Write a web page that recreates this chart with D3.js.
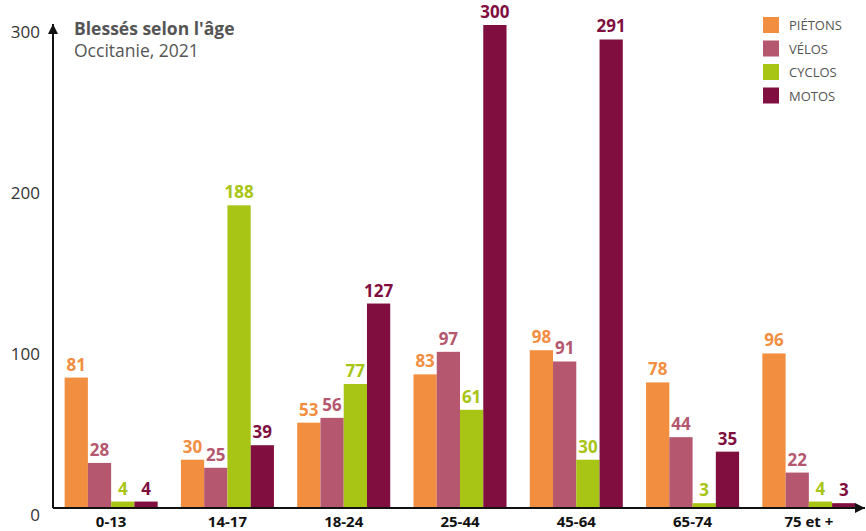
<!DOCTYPE html>
<html>
<head>
<meta charset="utf-8">
<script src="https://cdn.jsdelivr.net/npm/d3@7"></script>
<style>
  body { margin: 0; background: #fff; }
  svg { font-family: "Open Sans", sans-serif; }
</style>
</head>
<body>
<svg></svg>
<script>
// data
const ageGroups = ["0-13", "14-17", "18-24", "25-44", "45-64", "65-74", "75 et +"];
const seriesNames = ["PIÉTONS", "VÉLOS", "CYCLOS", "MOTOS"];
const pietons = [81, 30, 53, 83, 98, 78, 96];
const velos = [28, 25, 56, 97, 91, 44, 22];
const cyclos = [4, 188, 77, 61, 30, 3, 4];
const motos = [4, 39, 127, 300, 291, 35, 3];
const yTicks = [0, 100, 200, 300];

const seriesValues = [pietons, velos, cyclos, motos];
const colors = ["#f28e3f", "#b5576f", "#a8c414", "#800f3f"];

const width = 866;
const height = 531;

const svg = d3.select("svg")
  .attr("width", width)
  .attr("height", height);

// scales
const x = d3.scaleBand()
  .domain(ageGroups)
  .range([53, 867])
  .paddingInner(0.2)
  .paddingOuter(0.1);

const xSub = d3.scaleBand()
  .domain(seriesNames)
  .range([0, x.bandwidth()]);

const y = d3.scaleLinear()
  .domain([0, 300])
  .range([508, 25]);

const color = d3.scaleOrdinal()
  .domain(seriesNames)
  .range(colors);

// flatten for drawing
const rows = [];
ageGroups.forEach((g, i) => {
  seriesNames.forEach((s, j) => {
    rows.push({ group: g, series: s, value: seriesValues[j][i] });
  });
});

// bars
svg.selectAll("rect.bar")
  .data(rows).enter().append("rect")
  .attr("class", "bar")
  .attr("x", d => x(d.group) + xSub(d.series))
  .attr("y", d => y(d.value))
  .attr("width", xSub.bandwidth())
  .attr("height", d => y(0) - y(d.value))
  .attr("fill", d => color(d.series));

// value labels
svg.selectAll("text.val")
  .data(rows).enter().append("text")
  .attr("class", "val")
  .attr("x", d => x(d.group) + xSub(d.series) + xSub.bandwidth() / 2)
  .attr("y", d => y(d.value) - 7)
  .attr("text-anchor", "middle")
  .attr("font-size", "17px")
  .attr("font-weight", "bold")
  .attr("fill", d => color(d.series))
  .text(d => d.value);

// arrow marker
svg.append("defs").append("marker")
  .attr("id", "arrow")
  .attr("viewBox", "0 0 10 10")
  .attr("refX", 10)
  .attr("refY", 5)
  .attr("markerWidth", 5)
  .attr("markerHeight", 5)
  .attr("markerUnits", "strokeWidth")
  .attr("orient", "auto")
  .append("path")
  .attr("d", "M0,0 L10,5 L0,10 z")
  .attr("fill", "#111");

// y-axis
svg.append("line")
  .attr("x1", 53).attr("x2", 53)
  .attr("y1", y(0)).attr("y2", 24)
  .attr("stroke", "#111")
  .attr("stroke-width", 2)
  .attr("marker-end", "url(#arrow)");

svg.selectAll("text.ytick")
  .data(yTicks).enter().append("text")
  .attr("class", "ytick")
  .attr("x", 40)
  .attr("y", d => y(d) + 13)
  .attr("text-anchor", "end")
  .attr("font-size", "17px")
  .attr("fill", "#333")
  .text(d => d);

// x-axis
svg.append("line")
  .attr("x1", 53).attr("x2", 865)
  .attr("y1", y(0)).attr("y2", y(0))
  .attr("stroke", "#111")
  .attr("stroke-width", 2)
  .attr("marker-end", "url(#arrow)");

svg.selectAll("text.xtick")
  .data(ageGroups).enter().append("text")
  .attr("class", "xtick")
  .attr("x", d => x(d) + x.bandwidth() / 2)
  .attr("y", 527)
  .attr("text-anchor", "middle")
  .attr("font-size", "15px")
  .attr("font-weight", "bold")
  .attr("fill", "#111")
  .text(d => d);

// title
svg.append("text")
  .attr("x", 74)
  .attr("y", 35)
  .attr("font-size", "17.5px")
  .attr("font-weight", "bold")
  .attr("fill", "#555")
  .text("Blessés selon l'âge");

svg.append("text")
  .attr("x", 74)
  .attr("y", 57)
  .attr("font-size", "17.5px")
  .attr("fill", "#555")
  .text("Occitanie, 2021");

// legend
const legend = svg.selectAll(".legend-item")
  .data(seriesNames).enter().append("g")
  .attr("class", "legend-item")
  .attr("transform", (d, i) => `translate(763, ${17 + i * 23.5})`);

legend.append("rect")
  .attr("width", 16)
  .attr("height", 16)
  .attr("fill", d => color(d));

legend.append("text")
  .attr("x", 26)
  .attr("y", 13)
  .attr("font-size", "13px")
  .attr("fill", "#555")
  .text(d => d);
</script>
</body>
</html>
